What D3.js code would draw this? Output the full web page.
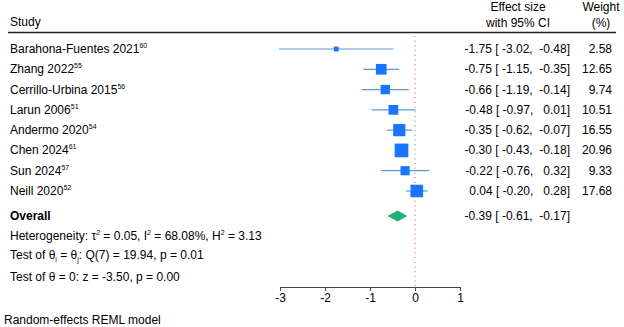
<!DOCTYPE html>
<html><head><meta charset="utf-8">
<script src="https://cdn.jsdelivr.net/npm/d3@7"></script>
<style>body{margin:0;background:#fff}svg{font-family:"Liberation Sans",Arial,sans-serif}</style>
</head><body><svg id="c" width="624" height="327"></svg>
<script>
const studies = ["Barahona-Fuentes 2021","Zhang 2022","Cerrillo-Urbina 2015","Larun 2006","Andermo 2020","Chen 2024","Sun 2024","Neill 2020"];
const refs = ["60","55","56","51","54","61","57","52"];
const effect = [-1.75,-0.75,-0.66,-0.48,-0.35,-0.30,-0.22,0.04];
const lower = [-3.02,-1.15,-1.19,-0.97,-0.62,-0.43,-0.76,-0.20];
const upper = [-0.48,-0.35,-0.14,0.01,-0.07,-0.18,0.32,0.28];
const weight = [2.58,12.65,9.74,10.51,16.55,20.96,9.33,17.68];
const overall = {es:-0.39, lo:-0.61, hi:-0.17};
const xTicks = [-3,-2,-1,0,1];

const svg = d3.select("#c");
const fs = 12;
const x = d3.scaleLinear().domain([-3,1]).range([280,460]);
const rowY = d3.scaleLinear().domain([0,7]).range([49,191]);
const fmt = v => d3.format(".2f")(v).replace("\u2212","-");
const blue = "#1a75ff", lblue = "#5b9bd5", green = "#1fb07a";

// headers
svg.append("text").attr("x",10).attr("y",26).attr("font-size",fs).text("Study");
svg.append("text").attr("x",518).attr("y",11).attr("font-size",fs).attr("text-anchor","middle").text("Effect size");
svg.append("text").attr("x",518).attr("y",27).attr("font-size",fs).attr("text-anchor","middle").text("with 95% CI");
svg.append("text").attr("x",601).attr("y",11).attr("font-size",fs).attr("text-anchor","middle").text("Weight");
svg.append("text").attr("x",601).attr("y",27).attr("font-size",fs).attr("text-anchor","middle").text("(%)");
svg.append("line").attr("x1",8).attr("x2",616).attr("y1",32.5).attr("y2",32.5).attr("stroke","#222").attr("stroke-width",1.3);

// zero line
svg.append("line").attr("x1",x(0)).attr("x2",x(0)).attr("y1",36).attr("y2",287)
  .attr("stroke","#d46a6a").attr("stroke-width",1).attr("stroke-dasharray","1.2,3.5");

// study rows
studies.forEach((s,i)=>{
  const y = rowY(i);
  const t = svg.append("text").attr("x",10).attr("y",y+4).attr("font-size",fs).text(s);
  t.append("tspan").attr("font-size",7).attr("dy",-5).text(refs[i]);
  svg.append("line").attr("x1",x(lower[i])).attr("x2",x(upper[i])).attr("y1",y).attr("y2",y)
    .attr("stroke",lblue).attr("stroke-width",1.2);
  const side = 3.0*Math.sqrt(weight[i]);
  svg.append("rect").attr("x",x(effect[i])-side/2).attr("y",y-side/2).attr("width",side).attr("height",side).attr("fill",blue);
  svg.append("text").attr("x",570).attr("y",y+4).attr("font-size",fs).attr("text-anchor","end").attr("xml:space","preserve")
    .text(`${fmt(effect[i])} [${fmt(lower[i]).padStart(6," ")}, ${fmt(upper[i]).padStart(6," ")}]`);
  svg.append("text").attr("x",612).attr("y",y+4).attr("font-size",fs).attr("text-anchor","end").text(fmt(weight[i]));
});

// overall
const oy = 216;
svg.append("text").attr("x",10).attr("y",oy+4).attr("font-size",fs).attr("font-weight","bold").text("Overall");
svg.append("path").attr("d",`M${x(overall.lo)},${oy} L${x(overall.es)},${oy-5.5} L${x(overall.hi)},${oy} L${x(overall.es)},${oy+5.5} Z`).attr("fill",green);
svg.append("text").attr("x",570).attr("y",oy+4).attr("font-size",fs).attr("text-anchor","end").attr("xml:space","preserve")
  .text(`${fmt(overall.es)} [${fmt(overall.lo).padStart(6," ")}, ${fmt(overall.hi).padStart(6," ")}]`);

// stats text
const h = svg.append("text").attr("x",10).attr("y",240).attr("font-size",fs);
h.append("tspan").text("Heterogeneity: τ");
h.append("tspan").attr("font-size",7).attr("dy",-5).text("2");
h.append("tspan").attr("dy",5).text(" = 0.05, I");
h.append("tspan").attr("font-size",7).attr("dy",-5).text("2");
h.append("tspan").attr("dy",5).text(" = 68.08%, H");
h.append("tspan").attr("font-size",7).attr("dy",-5).text("2");
h.append("tspan").attr("dy",5).text(" = 3.13");

const q = svg.append("text").attr("x",10).attr("y",259).attr("font-size",fs);
q.append("tspan").text("Test of θ");
q.append("tspan").attr("font-size",7).attr("dy",3).text("i");
q.append("tspan").attr("dy",-3).text(" = θ");
q.append("tspan").attr("font-size",7).attr("dy",3).text("j");
q.append("tspan").attr("dy",-3).text(": Q(7) = 19.94, p = 0.01");

svg.append("text").attr("x",10).attr("y",281).attr("font-size",fs).text("Test of θ = 0: z = -3.50, p = 0.00");

// axis
const ax = svg.append("g").attr("transform","translate(0,287)")
  .call(d3.axisBottom(x).tickValues(xTicks).tickFormat(d => String(d)).tickSize(4).tickSizeOuter(0).tickPadding(2));
ax.select(".domain").attr("stroke","#444");
ax.selectAll(".tick line").attr("stroke","#444");
ax.selectAll(".tick text").attr("font-size",fs).attr("font-family","Liberation Sans, Arial, sans-serif").attr("fill","#000");

svg.append("text").attr("x",4).attr("y",324).attr("font-size",fs).text("Random-effects REML model");
</script></body></html>
